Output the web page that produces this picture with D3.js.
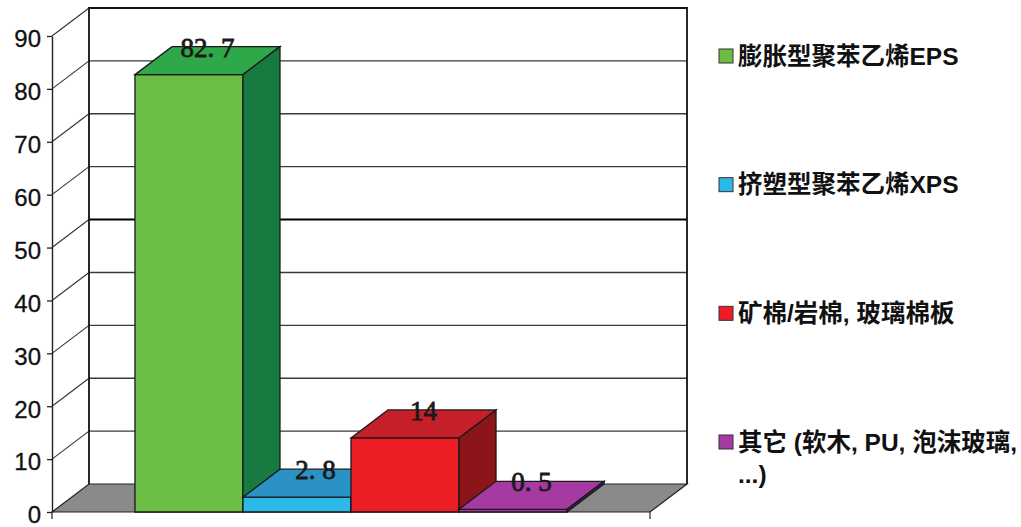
<!DOCTYPE html>
<html><head><meta charset="utf-8">
<script src="https://cdn.jsdelivr.net/npm/d3@7"></script>
<style>
html,body{margin:0;padding:0;background:#fff;}
svg{display:block;}
</style></head>
<body>
<svg id="chart" width="1021" height="527"></svg>
<script>
const categories = ["膨胀型聚苯乙烯EPS", "挤塑型聚苯乙烯XPS", "矿棉/岩棉, 玻璃棉板", "其它 (软木, PU, 泡沫玻璃, ...)"];
const values = [82.7, 2.8, 14, 0.5];
const tickValues = [0, 10, 20, 30, 40, 50, 60, 70, 80, 90];
const legendLines = [["膨胀型聚苯乙烯EPS"], ["挤塑型聚苯乙烯XPS"], ["矿棉/岩棉, 玻璃棉板"], ["其它 (软木, PU, 泡沫玻璃,", "...)"]];
const frontColors = ["#6cbd45", "#2cb9ea", "#ec1d25", "#a53aa3"];
const topColors = ["#2fa84a", "#2a92c4", "#c5202a", "#a53aa3"];
const sideColors = ["#177a40", "#1e6f98", "#8c1519", "#4a1850"];
const legendColors = ["#6cbd45", "#2cb9ea", "#ec1d25", "#a53aa3"];

const svg = d3.select("#chart");
const y = d3.scaleLinear().domain([0, 90]).range([512, 36]);
const x = d3.scaleBand().domain(categories).range([52, 650]).paddingInner(0).paddingOuter(0.768);
const dx = 37, dy = -28;
const x0 = 52, x1 = 650;

// back wall
const g = svg.append("g");
g.append("rect").attr("x", x0 + dx).attr("y", y(90) + dy)
  .attr("width", x1 - x0).attr("height", y(0) - y(90)).attr("fill", "#fff");

// gridlines on back wall and left wall
tickValues.forEach(t => {
  if (t === 0) return;
  const thick = t === 50;
  g.append("line").attr("x1", x0 + dx).attr("x2", x1 + dx)
    .attr("y1", y(t) + dy).attr("y2", y(t) + dy)
    .attr("stroke", thick ? "#000" : "#3a3a3a").attr("stroke-width", thick ? 2 : 1.4);
  g.append("line").attr("x1", x0).attr("x2", x0 + dx)
    .attr("y1", y(t)).attr("y2", y(t) + dy)
    .attr("stroke", "#333").attr("stroke-width", 1.1);
});
// back wall border
g.append("path")
  .attr("d", `M${x0 + dx},${y(0) + dy}V${y(90) + dy}H${x1 + dx}V${y(0) + dy}`)
  .attr("fill", "none").attr("stroke", "#111").attr("stroke-width", 1.8);

// floor
g.append("path")
  .attr("d", `M${x0},${y(0)}L${x1},${y(0)}L${x1 + dx},${y(0) + dy}L${x0 + dx},${y(0) + dy}Z`)
  .attr("fill", "#8a8a8a").attr("stroke", "#222").attr("stroke-width", 1.2);

// front axis
const axis = d3.axisLeft(y).tickValues(tickValues).tickSize(5).tickSizeOuter(0).tickPadding(6);
const ax = svg.append("g").attr("transform", `translate(${x0},0)`).call(axis);
ax.select(".domain").attr("stroke", "#222").attr("stroke-width", 1.4);
ax.selectAll(".tick line").attr("stroke", "#222").attr("stroke-width", 1.3);
ax.selectAll(".tick text")
  .attr("font-family", "'Liberation Sans', Arial, sans-serif")
  .attr("font-size", 24).attr("fill", "#111").attr("dy", "0.45em")
  .attr("stroke", "#111").attr("stroke-width", 0.3);

// bottom ticks at ends
[x0, x1].forEach(xx => {
  svg.append("line").attr("x1", xx).attr("x2", xx).attr("y1", y(0)).attr("y2", y(0) + 7)
    .attr("stroke", "#222").attr("stroke-width", 1.2);
});

// bars
const bars = svg.append("g");
categories.forEach((c, i) => {
  const v = values[i];
  const xl = x(c), xr = xl + x.bandwidth();
  const yt = y(v), yb = y(0);
  const bg = bars.append("g");
  bg.append("path")
    .attr("d", `M${xl},${yb}V${yt}H${xr}V${yb}Z`)
    .attr("fill", frontColors[i]).attr("stroke", "#1a1a1a").attr("stroke-width", 1.3);
  bg.append("path")
    .attr("d", `M${xl},${yt}L${xl + dx},${yt + dy}L${xr + dx},${yt + dy}L${xr},${yt}Z`)
    .attr("fill", topColors[i]).attr("stroke", "#1a1a1a").attr("stroke-width", 1.3);
  bg.append("path")
    .attr("d", `M${xr},${yb}L${xr},${yt}L${xr + dx},${yt + dy}L${xr + dx},${yb + dy}Z`)
    .attr("fill", sideColors[i]).attr("stroke", "#1a1a1a").attr("stroke-width", 1.3);
});

// value labels
const fmt = v => String(v).replace(".", ". ");
categories.forEach((c, i) => {
  const v = values[i];
  const cx = x(c) + x.bandwidth() / 2 + dx / 2;
  const cy = y(v) + dy / 2;
  svg.append("text").attr("x", cx).attr("y", cy - 4)
    .attr("text-anchor", "middle")
    .attr("font-family", "'Liberation Serif', 'DejaVu Serif', serif")
    .attr("font-size", 27).attr("fill", "#1a1a1a")
    .attr("stroke", "#1a1a1a").attr("stroke-width", 0.8)
    .text(fmt(v));
});

// legend
const ly = d3.scalePoint().domain(categories).range([56, 442]);
const leg = svg.append("g");
categories.forEach((c, i) => {
  const cy = ly(c);
  leg.append("rect").attr("x", 719).attr("y", cy - 7).attr("width", 14).attr("height", 14)
    .attr("fill", legendColors[i]).attr("stroke", "#333").attr("stroke-width", 1);
  legendLines[i].forEach((line, j) => {
    leg.append("text").attr("x", 738).attr("y", cy + j * 32).attr("dy", "0.36em")
      .attr("font-family", "'Liberation Sans', 'Noto Sans CJK SC', sans-serif")
      .attr("font-weight", "bold").attr("font-size", 24.5).attr("fill", "#111")
      .text(line);
  });
});
</script>
</body></html>
